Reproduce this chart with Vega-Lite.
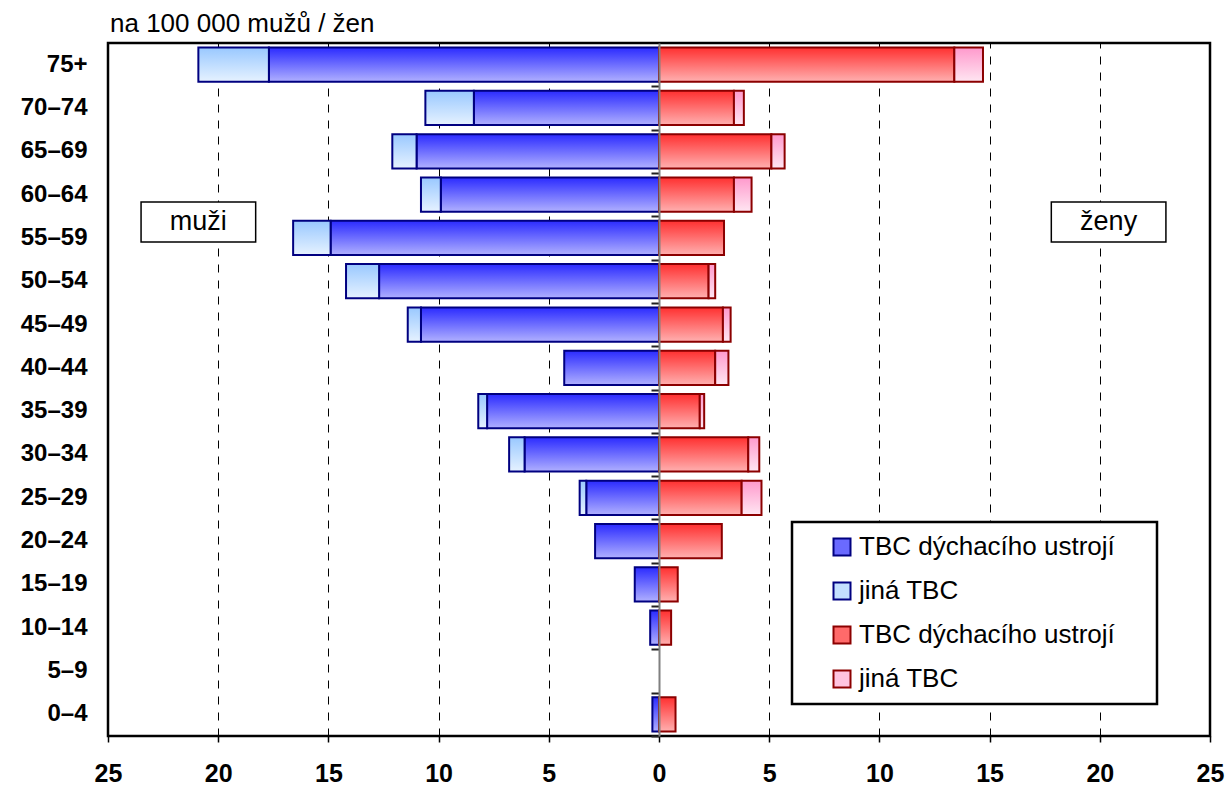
{
  "$schema": "https://vega.github.io/schema/vega-lite/v6.json",
  "width": 1102,
  "height": 693,
  "autosize": {"type": "none"},
  "padding": {"left": 108, "top": 43, "right": 16, "bottom": 51},
  "background": "white",
  "config": {
    "view": {"stroke": "black", "strokeWidth": 2.5},
    "font": "Liberation Sans",
    "legend": {"strokeWidth": 2.5}
  },
  "title": {
    "text": "na 100 000 mužů / žen",
    "anchor": "start",
    "frame": "group",
    "fontSize": 26,
    "fontWeight": "normal",
    "font": "Liberation Sans",
    "color": "black",
    "baseline": "alphabetic",
    "offset": 10,
    "dx": 2,
    "dy": 25
  },
  "datasets": {
    "bars": [
      {"age": "75+", "series": "m_resp", "value": -17.7},
      {"age": "75+", "series": "m_other", "value": -3.2},
      {"age": "75+", "series": "f_resp", "value": 13.4},
      {"age": "75+", "series": "f_other", "value": 1.3},
      {"age": "70–74", "series": "m_resp", "value": -8.4},
      {"age": "70–74", "series": "m_other", "value": -2.2},
      {"age": "70–74", "series": "f_resp", "value": 3.4},
      {"age": "70–74", "series": "f_other", "value": 0.45},
      {"age": "65–69", "series": "m_resp", "value": -11.0},
      {"age": "65–69", "series": "m_other", "value": -1.1},
      {"age": "65–69", "series": "f_resp", "value": 5.1},
      {"age": "65–69", "series": "f_other", "value": 0.6},
      {"age": "60–64", "series": "m_resp", "value": -9.9},
      {"age": "60–64", "series": "m_other", "value": -0.9},
      {"age": "60–64", "series": "f_resp", "value": 3.4},
      {"age": "60–64", "series": "f_other", "value": 0.8},
      {"age": "55–59", "series": "m_resp", "value": -14.9},
      {"age": "55–59", "series": "m_other", "value": -1.7},
      {"age": "55–59", "series": "f_resp", "value": 2.95},
      {"age": "50–54", "series": "m_resp", "value": -12.7},
      {"age": "50–54", "series": "m_other", "value": -1.5},
      {"age": "50–54", "series": "f_resp", "value": 2.25},
      {"age": "50–54", "series": "f_other", "value": 0.3},
      {"age": "45–49", "series": "m_resp", "value": -10.8},
      {"age": "45–49", "series": "m_other", "value": -0.6},
      {"age": "45–49", "series": "f_resp", "value": 2.9},
      {"age": "45–49", "series": "f_other", "value": 0.35},
      {"age": "40–44", "series": "m_resp", "value": -4.3},
      {"age": "40–44", "series": "f_resp", "value": 2.55},
      {"age": "40–44", "series": "f_other", "value": 0.6},
      {"age": "35–39", "series": "m_resp", "value": -7.8},
      {"age": "35–39", "series": "m_other", "value": -0.4},
      {"age": "35–39", "series": "f_resp", "value": 1.85},
      {"age": "35–39", "series": "f_other", "value": 0.2},
      {"age": "30–34", "series": "m_resp", "value": -6.1},
      {"age": "30–34", "series": "m_other", "value": -0.7},
      {"age": "30–34", "series": "f_resp", "value": 4.05},
      {"age": "30–34", "series": "f_other", "value": 0.5},
      {"age": "25–29", "series": "m_resp", "value": -3.3},
      {"age": "25–29", "series": "m_other", "value": -0.3},
      {"age": "25–29", "series": "f_resp", "value": 3.75},
      {"age": "25–29", "series": "f_other", "value": 0.9},
      {"age": "20–24", "series": "m_resp", "value": -2.9},
      {"age": "20–24", "series": "f_resp", "value": 2.85},
      {"age": "15–19", "series": "m_resp", "value": -1.1},
      {"age": "15–19", "series": "f_resp", "value": 0.85},
      {"age": "10–14", "series": "m_resp", "value": -0.4},
      {"age": "10–14", "series": "f_resp", "value": 0.55},
      {"age": "0–4", "series": "m_resp", "value": -0.3},
      {"age": "0–4", "series": "f_resp", "value": 0.75}
    ],
    "boxes": [
      {"label": "muži", "age": "55–59", "x1": -23.5, "x2": -18.3, "xc": -20.9},
      {"label": "ženy", "age": "55–59", "x1": 17.8, "x2": 23.0, "xc": 20.4}
    ]
  },
  "resolve": {"axis": {"y": "independent"}},
  "layer": [
    {
      "data": {"name": "bars"},
      "mark": {"type": "bar", "strokeWidth": 2},
      "encoding": {
        "y": {
          "field": "age",
          "type": "nominal",
          "scale": {
            "domain": ["75+", "70–74", "65–69", "60–64", "55–59", "50–54", "45–49", "40–44", "35–39", "30–34", "25–29", "20–24", "15–19", "10–14", "5–9", "0–4"],
            "paddingInner": 0.21,
            "paddingOuter": 0.105
          },
          "axis": {
            "title": null,
            "orient": "left",
            "domain": false,
            "ticks": false,
            "grid": false,
            "labelFont": "Liberation Sans",
            "labelFontSize": 24,
            "labelFontWeight": "bold",
            "labelColor": "black",
            "labelPadding": 21
          }
        },
        "x": {
          "field": "value",
          "type": "quantitative",
          "stack": "zero",
          "scale": {"domain": [-25, 25], "nice": false, "zero": false},
          "axis": {
            "title": null,
            "values": [-25, -20, -15, -10, -5, 0, 5, 10, 15, 20, 25],
            "labelExpr": "'' + abs(datum.value)",
            "labelFont": "Liberation Sans",
            "labelFontSize": 25,
            "labelFontWeight": "bold",
            "labelColor": "black",
            "labelPadding": 19,
            "labelFlush": false,
            "domain": false,
            "ticks": true,
            "tickSize": 6,
            "tickColor": "black",
            "tickWidth": 1.5,
            "grid": true,
            "gridColor": "black",
            "gridWidth": 1,
            "gridDash": [8, 8],
            "gridOpacity": {"condition": {"test": "datum.value === 0 || abs(datum.value) === 25", "value": 0}, "value": 1}
          }
        },
        "fill": {
          "condition": [
            {"test": "datum.series === 'm_resp'", "value": {"gradient": "linear", "x1": 0, "y1": 0, "x2": 0, "y2": 1, "stops": [{"offset": 0, "color": "#2b2bff"}, {"offset": 1, "color": "#b0b0ff"}]}},
            {"test": "datum.series === 'm_other'", "value": {"gradient": "linear", "x1": 0, "y1": 0, "x2": 0, "y2": 1, "stops": [{"offset": 0, "color": "#99c8ff"}, {"offset": 1, "color": "#e6f2ff"}]}},
            {"test": "datum.series === 'f_resp'", "value": {"gradient": "linear", "x1": 0, "y1": 0, "x2": 0, "y2": 1, "stops": [{"offset": 0, "color": "#ff3030"}, {"offset": 1, "color": "#ffb0b0"}]}},
            {"test": "datum.series === 'f_other'", "value": {"gradient": "linear", "x1": 0, "y1": 0, "x2": 0, "y2": 1, "stops": [{"offset": 0, "color": "#ff99cc"}, {"offset": 1, "color": "#ffe6f2"}]}}
          ],
          "field": "series",
          "type": "nominal",
          "scale": {
            "domain": ["m_resp", "m_other", "f_resp", "f_other"],
            "range": ["#6a6aff", "#c4e0ff", "#ff6a6a", "#ffc4e0"]
          },
          "legend": {
            "title": "M",
            "titleOrient": "right",
            "titleColor": "transparent",
            "titleFontSize": 20,
            "titleFontWeight": "normal",
            "titlePadding": 13,
            "orient": "none",
            "legendX": 684,
            "legendY": 479,
            "direction": "vertical",
            "fillColor": "white",
            "strokeColor": "black",
            "padding": 12,
            "symbolOffset": 25,
            "symbolType": "square",
            "symbolSize": 289,
            "symbolStrokeWidth": 2,
            "labelFont": "Liberation Sans",
            "labelFontSize": 26,
            "labelColor": "black",
            "labelOffset": 4,
            "labelLimit": 0,
            "rowPadding": 18,
            "labelExpr": "indexof(datum.value, 'resp') >= 0 ? 'TBC dýchacího ustrojí' : 'jiná TBC'"
          }
        },
        "stroke": {
          "field": "series",
          "type": "nominal",
          "scale": {
            "domain": ["m_resp", "m_other", "f_resp", "f_other"],
            "range": ["#000080", "#000080", "#8b0000", "#8b0000"]
          }
        },
        "order": {"field": "series", "sort": "descending"}
      }
    },
    {
      "data": {"name": "boxes"},
      "mark": {"type": "bar", "fill": "white", "stroke": "black", "strokeWidth": 1.5, "height": 40, "yOffset": -16},
      "encoding": {
        "y": {
          "field": "age",
          "type": "nominal",
          "axis": {
            "title": null,
            "orient": "left",
            "offset": -551,
            "labels": false,
            "grid": false,
            "domain": true,
            "domainColor": "#808080",
            "domainWidth": 2,
            "ticks": true,
            "tickOffset": 21.66,
            "tickSize": 8,
            "tickColor": "#222222",
            "tickWidth": 2,
            "zindex": 1
          }
        },
        "x": {"field": "x1", "type": "quantitative", "scale": {"domain": [-25, 25]}},
        "x2": {"field": "x2"}
      }
    },
    {
      "data": {"name": "boxes"},
      "mark": {"type": "text", "fontSize": 27, "font": "Liberation Sans", "color": "black", "yOffset": -16, "baseline": "middle", "align": "center"},
      "encoding": {
        "y": {"field": "age", "type": "nominal", "axis": null},
        "x": {"field": "xc", "type": "quantitative", "scale": {"domain": [-25, 25]}},
        "text": {"field": "label"}
      }
    }
  ]
}
